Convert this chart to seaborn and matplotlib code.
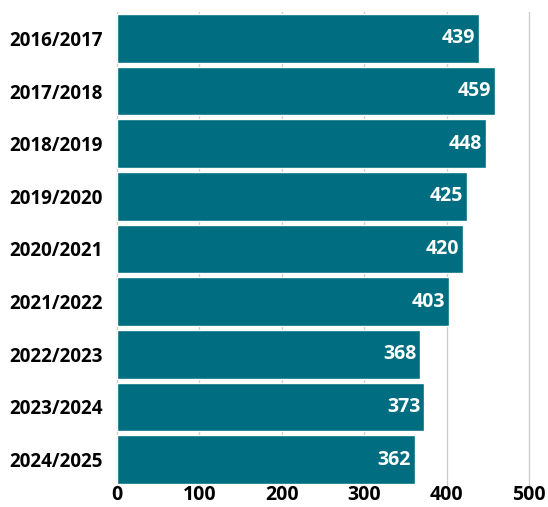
import matplotlib
matplotlib.use('Agg')
import matplotlib.pyplot as plt
import seaborn as sns
import pandas as pd

# Dados
anos = ['2016/2017', '2017/2018', '2018/2019', '2019/2020', '2020/2021',
        '2021/2022', '2022/2023', '2023/2024', '2024/2025']
valores = [439, 459, 448, 425, 420, 403, 368, 373, 362]
ticks_x = [0, 100, 200, 300, 400, 500]

df = pd.DataFrame({'ano': anos, 'valor': valores})

sns.set_style('white')
plt.rcParams['font.family'] = ['Open Sans', 'DejaVu Sans']

fig = plt.figure(figsize=(5.48, 5.07), dpi=100)
# eixo: x=0 em ~117px, x=500 em ~529px; barras de y=14 a y=484
ax = fig.add_axes([0.2135, 1 - 486 / 507, 0.7518, 474 / 507])

sns.barplot(data=df, x='valor', y='ano', color='#006E80', width=0.93,
            saturation=1, ax=ax, zorder=2)

# Rótulos dentro das barras
for i, v in enumerate(valores):
    ax.text(v - 5, i, str(v), ha='right', va='center', color='white',
            fontsize=14, fontweight='bold', zorder=3)

ax.set_xlim(0, 500)
ax.set_xticks(ticks_x)
ax.set_xticklabels([str(t) for t in ticks_x], fontsize=14, fontweight='bold',
                   color='black')
ax.set_ylim(8.5, -0.5)
ax.set_yticks(range(len(anos)))
ax.set_yticklabels(anos, fontsize=13.5, fontweight='bold', color='black')
ax.set_xlabel('')
ax.set_ylabel('')
ax.xaxis.grid(True, color='#cccccc', linewidth=1, zorder=0)
for g in ax.xaxis.get_gridlines():
    g.set_clip_on(False)
ax.set_axisbelow(True)
ax.tick_params(axis='x', length=0, pad=-1)
ax.tick_params(axis='y', length=0, pad=10)
for s in ax.spines.values():
    s.set_visible(False)

fig.savefig('out.png', dpi=100)
